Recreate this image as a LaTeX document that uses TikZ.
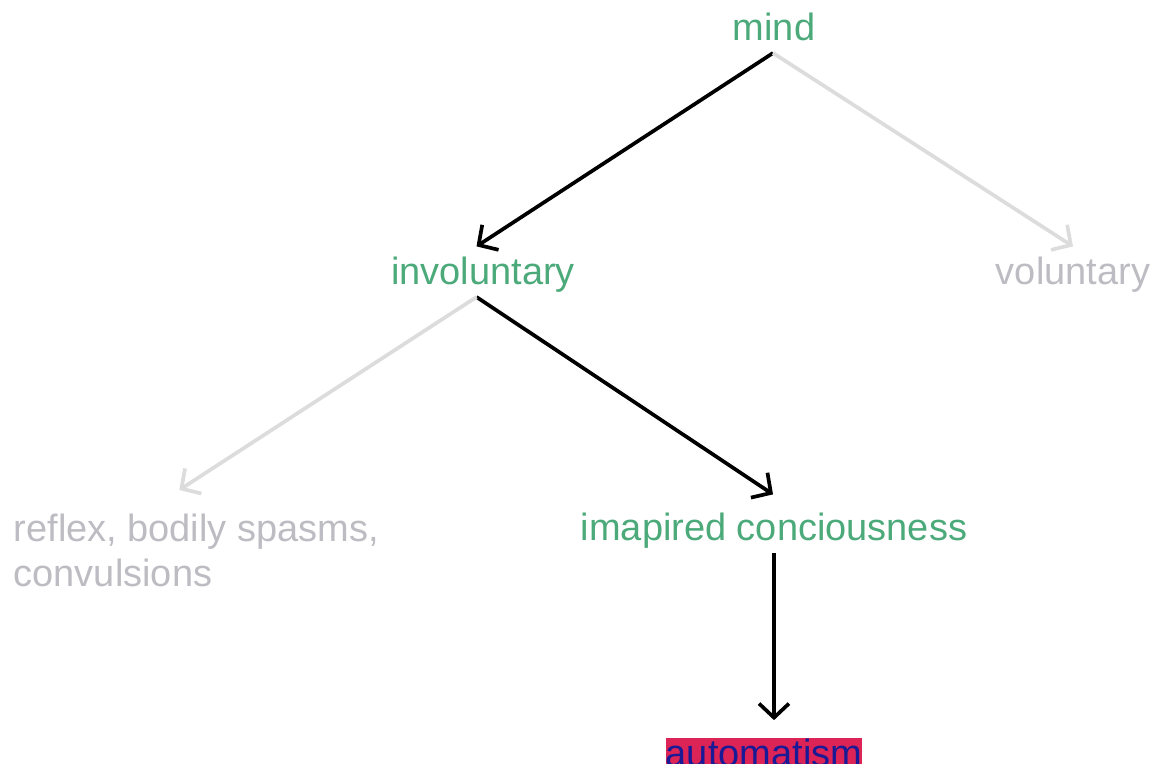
\documentclass[tikz,border=0pt]{standalone}
\usepackage{fontspec}
\setmainfont{Liberation Sans}
\usetikzlibrary{arrows.meta}

\definecolor{leafgreen}{RGB}{76,170,122}
\definecolor{fadedgray}{RGB}{188,188,194}
\definecolor{fadedline}{RGB}{220,220,220}
\definecolor{hilitered}{RGB}{220,36,86}
\definecolor{hilitetext}{RGB}{26,26,150}

\begin{document}
\begin{tikzpicture}[x=0.01cm, y=-0.01cm,
    term/.style={inner sep=0pt, anchor=base, text height=1.05em, text depth=0.35em,
        font=\fontsize{10.8}{12.8}\selectfont},
    chosen/.style={draw=black, line width=1.05pt, -{Straight Barb[length=4pt,width=8.5pt]}},
    dropped/.style={draw=fadedline, line width=1.05pt, -{Straight Barb[length=4pt,width=8.5pt]}}]
    \useasboundingbox (0,0) rectangle (1158,763);

    % Terms of the tree
    \node[term, text=leafgreen] (mind) at (774,40) {mind};
    \node[term, text=leafgreen] (involuntary) at (483,284) {involuntary};
    \node[term, text=fadedgray] (voluntary) at (1073,284) {voluntary};
    \node[term, text=fadedgray, text height=, text depth=, align=left, anchor=north west]
        (reflex) at (13,513) {reflex, bodily spasms,\\convulsions};
    \node[term, text=leafgreen] (impaired) at (774,540) {imapired conciousness};

    % The end point, highlighted
    \node[term, text=hilitetext, fill=hilitered, text height=0.8em, text depth=0.25em]
        (automatism) at (764,766) {automatism};

    % Branches followed
    \draw[chosen] ([xshift=-0.01cm]mind.south) -- ([xshift=-0.065cm]involuntary.north);
    \draw[chosen] ([xshift=-0.065cm]involuntary.south) -- ([xshift=-0.01cm,yshift=0.08cm]impaired.north);
    \draw[chosen] (impaired.south) -- ([yshift=0.17cm]impaired.south |- automatism.north);

    % Branches not followed
    \draw[dropped] ([xshift=-0.01cm]mind.south) -- (voluntary.north);
    \draw[dropped] ([xshift=-0.065cm]involuntary.south) -- ([xshift=-0.17cm,yshift=0.23cm]reflex.north);

\end{tikzpicture}
\end{document}
